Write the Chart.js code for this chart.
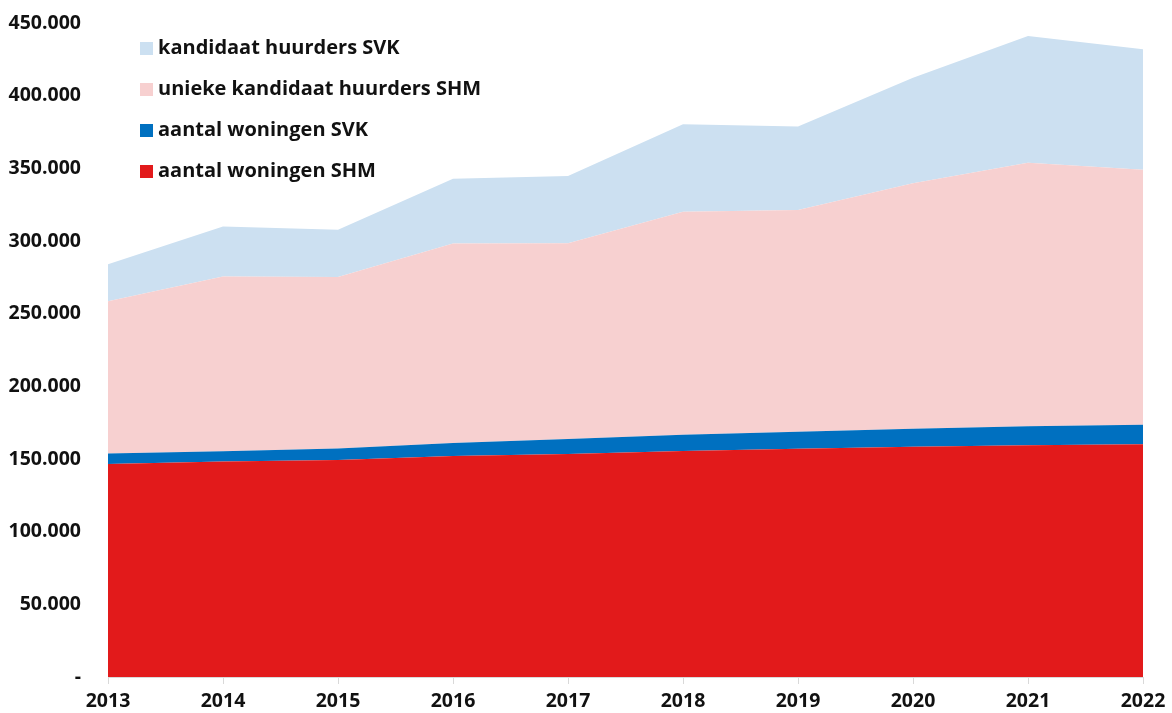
<!DOCTYPE html>
<html>
<head>
<meta charset="utf-8">
<script src="https://cdn.jsdelivr.net/npm/chart.js@4"></script>
<style>
  html, body { margin: 0; padding: 0; background: #fff; }
  #wrap { width: 1172px; height: 713px; }
</style>
</head>
<body>
<div id="wrap"><canvas id="MyChart"></canvas></div>
<script>
const years = ['2013','2014','2015','2016','2017','2018','2019','2020','2021','2022'];
const woningenSHM = [146600, 148200, 149300, 152000, 153400, 155500, 157000, 158500, 159500, 160100];
const woningenSVK = [7100, 7100, 8000, 9000, 10400, 11200, 11800, 12400, 13000, 13500];
const kandidaatSHM = [104800, 120200, 117900, 137200, 134600, 153500, 152500, 168800, 181400, 175400];
const kandidaatSVK = [25500, 34500, 32600, 44700, 46300, 60100, 57400, 72700, 87100, 83000];
const yTicks = [0, 50000, 100000, 150000, 200000, 250000, 300000, 350000, 400000, 450000];

const font = "'Open Sans', 'Noto Sans', sans-serif";

function area(label, data, color, fill){
    return {
        label: label,
        data: data,
        backgroundColor: color,
        borderWidth: 0,
        pointRadius: 0,
        tension: 0,
        fill: fill,
    }
}

// legend drawn inside the plot, top-left, last dataset first
const sideLegend = {
    id: 'sideLegend',
    afterDraw(chart){
        const ctx = chart.ctx
        const items = chart.data.datasets.slice().reverse()
        ctx.save()
        ctx.font = "bold 20px " + font
        ctx.textBaseline = 'middle'
        items.forEach((ds, i) => {
            const y = 48.5 + i * 41
            ctx.fillStyle = ds.backgroundColor
            ctx.fillRect(140, y - 6.5, 13, 13)
            ctx.fillStyle = '#111'
            ctx.fillText(ds.label, 158, y)
        })
        ctx.restore()
    }
}

const ctx = document.getElementById('MyChart').getContext('2d')
new Chart(ctx, {
    type: 'line',
    data: {
        labels: years,
        datasets: [
            area('aantal woningen SHM', woningenSHM, '#e21a1b', 'origin'),
            area('aantal woningen SVK', woningenSVK, '#0070c0', '-1'),
            area('unieke kandidaat huurders SHM', kandidaatSHM, '#f7d0d0', '-1'),
            area('kandidaat huurders SVK', kandidaatSVK, '#cce0f1', '-1'),
        ],
    },
    options: {
        responsive: true,
        maintainAspectRatio: false,
        animation: false,
        layout: { padding: { top: 23, right: 29, left: 0, bottom: 0 } },
        plugins: {
            legend: { display: false },
            tooltip: { enabled: false },
        },
        scales: {
            x: {
                offset: false,
                afterFit: (scale) => { scale.height = 36; scale.paddingLeft = 0; scale.paddingRight = 0 },
                grid: { drawOnChartArea: false, drawTicks: true, tickLength: 7, color: '#d9d9d9' },
                border: { display: true, color: '#d9d9d9', width: 1 },
                ticks: { color: '#111', font: { family: font, size: 19.5, weight: 'bold' }, padding: 6, maxRotation: 0 },
            },
            y: {
                stacked: true,
                min: 0,
                max: 450000,
                afterBuildTicks: (scale) => { scale.ticks = yTicks.map(v => ({ value: v })) },
                afterFit: (scale) => { scale.width = 108; scale.paddingTop = 0; scale.paddingBottom = 0 },
                grid: { display: false, drawTicks: false },
                border: { display: false },
                ticks: {
                    color: '#111',
                    padding: 27,
                    font: { family: font, size: 19.5, weight: 'bold' },
                    callback: (v) => v === 0 ? '-' : v.toLocaleString('de-DE'),
                },
            },
        },
    },
    plugins: [sideLegend],
})
</script>
</body>
</html>
